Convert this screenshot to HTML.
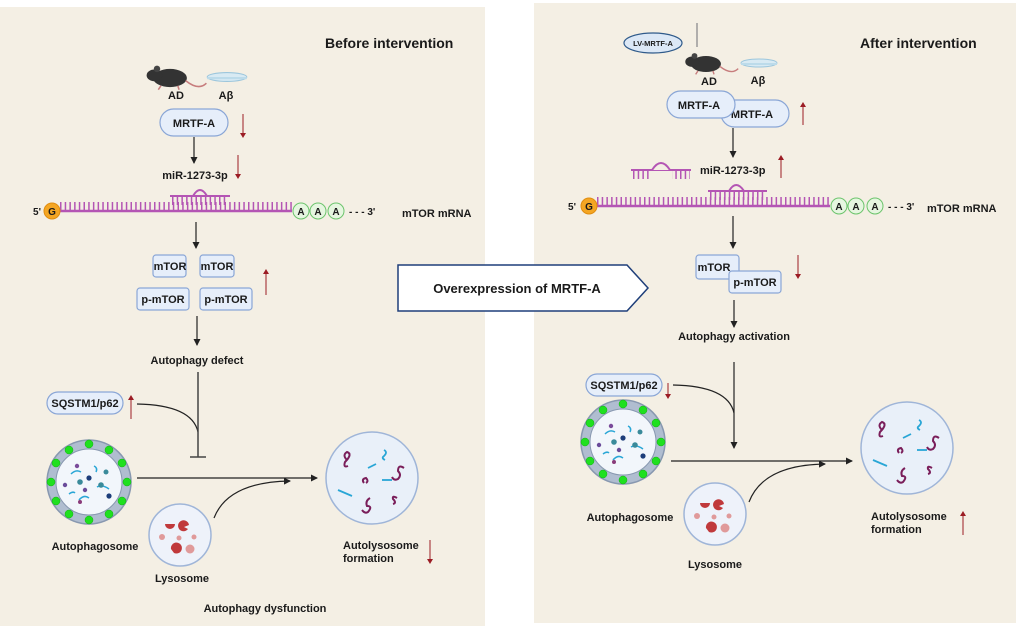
<!DOCTYPE html>
<html><head><meta charset="utf-8"><style>
html,body{margin:0;padding:0;background:#fff;}
svg{display:block;}
text{font-family:"Liberation Sans",Arial,sans-serif;font-weight:bold;fill:#1a1a1a;}
</style></head><body>
<svg width="1020" height="631" viewBox="0 0 1020 631" xmlns="http://www.w3.org/2000/svg">
<defs>
<marker id="ah" markerWidth="8" markerHeight="8" refX="6" refY="4" orient="auto" markerUnits="userSpaceOnUse"><path d="M0,0.5 L7,4 L0,7.5 Z" fill="#222"/></marker>
<marker id="rh" markerWidth="6" markerHeight="6" refX="4" refY="3" orient="auto" markerUnits="userSpaceOnUse"><path d="M0,0 L5,3 L0,6 Z" fill="#9b1c24"/></marker>
<g id="mouse">
<ellipse cx="0" cy="0" rx="13" ry="7" fill="#333"/>
<ellipse cx="-12" cy="-2" rx="6" ry="4.5" fill="#333"/>
<circle cx="-10" cy="-7" r="2.5" fill="#444"/>
<path d="M12,2 Q22,10 28,4" stroke="#c77d7d" stroke-width="1.2" fill="none"/>
<path d="M-7,6 l-2,3 M6,6 l1,3" stroke="#c77d7d" stroke-width="1.2"/>
</g>
<g id="dish"><ellipse cx="0" cy="0" rx="18" ry="4" fill="#d8eaf3" stroke="#9cc6dc"/><rect x="-18" y="0" width="36" height="2" fill="#bcdbea"/></g>
<g id="phago">
<circle r="42" fill="#b0bdd0" stroke="#8898b0" stroke-width="1.5"/>
<circle r="33" fill="#f2f6fb" stroke="#8898b0"/>
<g fill="#1fe01f" stroke="#13b013" stroke-width="0.5">
<circle cx="0" cy="-38" r="4"/><circle cx="20" cy="-32" r="4"/><circle cx="33" cy="-19" r="4"/><circle cx="38" cy="0" r="4"/><circle cx="33" cy="19" r="4"/><circle cx="20" cy="32" r="4"/><circle cx="0" cy="38" r="4"/><circle cx="-20" cy="32" r="4"/><circle cx="-33" cy="19" r="4"/><circle cx="-38" cy="0" r="4"/><circle cx="-33" cy="-19" r="4"/><circle cx="-20" cy="-32" r="4"/></g>
<g stroke="#29a6d6" stroke-width="1.5" fill="none"><path d="M-18,-8 q5,-5 10,-2"/><path d="M-10,18 q5,-6 10,-2"/><path d="M5,-16 q4,2 2,6"/><path d="M8,5 q5,-3 12,2"/><path d="M-20,12 q4,-3 6,-1"/></g>
<g><circle cx="-12" cy="-16" r="2.2" fill="#7a4b9a"/><circle cx="17" cy="-10" r="2.5" fill="#3a8a9a"/><circle cx="-9" cy="0" r="2.8" fill="#3a8a9a"/><circle cx="0" cy="-4" r="2.6" fill="#1d3d7a"/><circle cx="-24" cy="3" r="2.2" fill="#6a4b9a"/><circle cx="-4" cy="8" r="2.2" fill="#6a4b9a"/><circle cx="12" cy="3" r="2.8" fill="#3a8a9a"/><circle cx="20" cy="14" r="2.6" fill="#1d3d7a"/><circle cx="-9" cy="20" r="2" fill="#8a3b7a"/></g>
</g>
<g id="lyso">
<circle r="31" fill="#eef2fa" stroke="#9fb5d8" stroke-width="1.5"/>
<g fill="#c0393b"><path d="M-10,-11 m-5,0 a5,5 0 1,0 10,0 l-5,0 z"/><path d="M9,-10 a5.5,5.5 0 1,0 -1,4 l-4,-2 z"/><path d="M-9,14 a5.5,5.5 0 1,1 3,4 l-3,-4 z"/></g>
<g fill="#e09a9a"><circle cx="-18" cy="2" r="3"/><circle cx="-1" cy="3" r="2.5"/><circle cx="14" cy="2" r="2.5"/><circle cx="10" cy="14" r="4.5"/></g>
</g>
<g id="auto">
<circle r="46" fill="#e9f0f9" stroke="#9fb5d8" stroke-width="1.5"/>
<g stroke="#7a1e5a" stroke-width="2" fill="none"><path d="M-25,-18 q-5,-5 0,-8 q6,2 -2,10 q-2,6 3,4"/><path d="M32,-10 q-6,-4 -6,3 q4,4 0,8 q-4,2 -6,-2"/><path d="M-8,5 q-3,-4 2,-5 q3,3 0,5"/><path d="M25,20 q-5,-3 -4,1 q4,4 0,5"/><path d="M-2,20 q-5,3 -3,8 q6,0 1,6 q-3,2 -6,-2"/></g>
<g stroke="#29a6d6" stroke-width="1.8" fill="none"><path d="M12,-28 q4,2 0,6 q-3,2 1,4"/><path d="M-4,-10 l8,-4"/><path d="M10,2 l10,0"/><path d="M-34,12 l14,6"/></g>
</g>
</defs>

<rect x="0" y="7" width="485" height="619" fill="#f4efe4"/>
<rect x="534" y="3" width="482" height="620" fill="#f4efe4"/>

<!-- LEFT -->
<text x="325" y="48" font-size="14">Before intervention</text>
<use href="#mouse" transform="translate(170,78) scale(1.3)"/>
<use href="#dish" transform="translate(227,77) scale(1.1)"/>
<text x="176" y="99" font-size="11" text-anchor="middle">AD</text>
<text x="226" y="99" font-size="11" text-anchor="middle">Aβ</text>
<rect x="160" y="109" width="68" height="27" rx="13.5" fill="#e6eefa" stroke="#8aa6d6" stroke-width="1.2"/>
<text x="194" y="127" font-size="11" text-anchor="middle">MRTF-A</text>
<line x1="243" y1="114" x2="243" y2="137" stroke="#9b1c24" stroke-width="1" marker-end="url(#rh)"/>
<line x1="194" y1="137" x2="194" y2="163" stroke="#222" stroke-width="1.2" marker-end="url(#ah)"/>
<text x="195" y="179" font-size="11" text-anchor="middle">miR-1273-3p</text>
<line x1="238" y1="155" x2="238" y2="178" stroke="#9b1c24" stroke-width="1" marker-end="url(#rh)"/>
<line x1="60" y1="206" x2="292" y2="206" stroke="#b455b4" stroke-width="8" stroke-dasharray="1.5 3.2"/>
<line x1="60" y1="211" x2="292" y2="211" stroke="#b455b4" stroke-width="2.5"/>
<path d="M170,196 L230,196" stroke="#b455b4" stroke-width="2"/>
<line x1="172" y1="201" x2="228" y2="201" stroke="#b455b4" stroke-width="8" stroke-dasharray="1.5 3.2"/>
<path d="M193,196 q7,-12 14,0" stroke="#b455b4" stroke-width="2" fill="none"/>
<circle cx="52" cy="211" r="8" fill="#f4a623" stroke="#e08d10"/>
<text x="52" y="215" font-size="10" text-anchor="middle" font-weight="normal" fill="#8a5a00">G</text>
<text x="37" y="215" font-size="10" font-weight="normal" fill="#333" text-anchor="middle">5'</text>
<g fill="#e6f6e0" stroke="#6cc46c"><circle cx="301" cy="211" r="8"/><circle cx="318" cy="211" r="8"/><circle cx="336" cy="211" r="8"/></g>
<g font-size="10" font-weight="normal" text-anchor="middle"><text x="301" y="215" fill="#3a8a5a">A</text><text x="318" y="215" fill="#3a8a5a">A</text><text x="336" y="215" fill="#3a8a5a">A</text></g>
<text x="349" y="215" font-size="10" font-weight="normal" fill="#333">- - - 3'</text>
<text x="402" y="217" font-size="11">mTOR mRNA</text>
<line x1="196" y1="222" x2="196" y2="248" stroke="#222" stroke-width="1.2" marker-end="url(#ah)"/>
<g fill="#e6eefa" stroke="#8aa6d6" stroke-width="1.2">
<rect x="153" y="255" width="33" height="22" rx="3"/><rect x="200" y="255" width="34" height="22" rx="3"/>
<rect x="137" y="288" width="52" height="22" rx="3"/><rect x="200" y="288" width="52" height="22" rx="3"/></g>
<g font-size="11" text-anchor="middle"><text x="170" y="270">mTOR</text><text x="217" y="270">mTOR</text><text x="163" y="303">p-mTOR</text><text x="226" y="303">p-mTOR</text></g>
<line x1="266" y1="295" x2="266" y2="270" stroke="#9b1c24" stroke-width="1" marker-end="url(#rh)"/>
<line x1="197" y1="316" x2="197" y2="345" stroke="#222" stroke-width="1.2" marker-end="url(#ah)"/>
<text x="197" y="364" font-size="11" text-anchor="middle">Autophagy defect</text>
<rect x="47" y="392" width="76" height="22" rx="11" fill="#e6eefa" stroke="#8aa6d6" stroke-width="1.2"/>
<text x="85" y="407" font-size="11" text-anchor="middle">SQSTM1/p62</text>
<line x1="131" y1="419" x2="131" y2="396" stroke="#9b1c24" stroke-width="1" marker-end="url(#rh)"/>
<path d="M137,404 Q192,405 198,432" stroke="#222" stroke-width="1.2" fill="none"/>
<line x1="198" y1="372" x2="198" y2="457" stroke="#444" stroke-width="1.5"/>
<line x1="190" y1="457" x2="206" y2="457" stroke="#444" stroke-width="1.5"/>
<use href="#phago" transform="translate(89,482)"/>
<line x1="137" y1="478" x2="317" y2="478" stroke="#222" stroke-width="1.2" marker-end="url(#ah)"/>
<use href="#lyso" transform="translate(180,535)"/>
<path d="M214,518 Q228,482 290,481" stroke="#222" stroke-width="1.2" fill="none" marker-end="url(#ah)"/>
<use href="#auto" transform="translate(372,478)"/>
<text x="95" y="550" font-size="11" text-anchor="middle">Autophagosome</text>
<text x="182" y="582" font-size="11" text-anchor="middle">Lysosome</text>
<text x="343" y="549" font-size="11">Autolysosome</text>
<text x="343" y="562" font-size="11">formation</text>
<line x1="430" y1="540" x2="430" y2="563" stroke="#9b1c24" stroke-width="1" marker-end="url(#rh)"/>
<text x="265" y="612" font-size="11" text-anchor="middle">Autophagy dysfunction</text>

<path d="M398,265 L627,265 L648,288 L627,311 L398,311 Z" fill="#fff" stroke="#1f3f7a" stroke-width="1.5"/>
<text x="517" y="293" font-size="13" text-anchor="middle">Overexpression of MRTF-A</text>

<!-- RIGHT -->
<text x="860" y="48" font-size="14">After intervention</text>
<ellipse cx="653" cy="43" rx="29" ry="10" fill="#dce8f6" stroke="#2f5a8a" stroke-width="1.2"/>
<text x="653" y="46" font-size="7.5" text-anchor="middle">LV-MRTF-A</text>
<line x1="697" y1="23" x2="697" y2="47" stroke="#999" stroke-width="1.5"/>
<use href="#mouse" transform="translate(706,64) scale(1.15)"/>
<use href="#dish" transform="translate(759,63)"/>
<text x="709" y="85" font-size="11" text-anchor="middle">AD</text>
<text x="758" y="84" font-size="11" text-anchor="middle">Aβ</text>
<rect x="721" y="100" width="68" height="27" rx="13.5" fill="#e6eefa" stroke="#8aa6d6" stroke-width="1.2"/>
<text x="752" y="118" font-size="11" text-anchor="middle">MRTF-A</text>
<rect x="667" y="91" width="68" height="27" rx="13.5" fill="#e6eefa" stroke="#8aa6d6" stroke-width="1.2"/>
<text x="699" y="109" font-size="11" text-anchor="middle">MRTF-A</text>
<line x1="803" y1="125" x2="803" y2="103" stroke="#9b1c24" stroke-width="1" marker-end="url(#rh)"/>
<line x1="733" y1="128" x2="733" y2="157" stroke="#222" stroke-width="1.2" marker-end="url(#ah)"/>
<path d="M631,170 h60" stroke="#b455b4" stroke-width="2"/>
<line x1="633" y1="175" x2="690" y2="175" stroke="#b455b4" stroke-width="8" stroke-dasharray="1.5 3.2"/>
<path d="M652,170 q9,-14 18,0" stroke="#b455b4" stroke-width="2" fill="#f4efe4"/>
<rect x="650" y="171" width="22" height="9" fill="#f4efe4"/>
<text x="700" y="174" font-size="11">miR-1273-3p</text>
<line x1="781" y1="178" x2="781" y2="156" stroke="#9b1c24" stroke-width="1" marker-end="url(#rh)"/>
<line x1="597" y1="201" x2="830" y2="201" stroke="#b455b4" stroke-width="8" stroke-dasharray="1.5 3.2"/>
<line x1="597" y1="206" x2="830" y2="206" stroke="#b455b4" stroke-width="2.5"/>
<path d="M708,191 L767,191" stroke="#b455b4" stroke-width="2"/>
<line x1="710" y1="196" x2="765" y2="196" stroke="#b455b4" stroke-width="8" stroke-dasharray="1.5 3.2"/>
<path d="M729,191 q7,-12 15,0" stroke="#b455b4" stroke-width="2" fill="none"/>
<circle cx="589" cy="206" r="8" fill="#f4a623" stroke="#e08d10"/>
<text x="589" y="210" font-size="10" text-anchor="middle" font-weight="normal" fill="#8a5a00">G</text>
<text x="572" y="210" font-size="10" font-weight="normal" fill="#333" text-anchor="middle">5'</text>
<g fill="#e6f6e0" stroke="#6cc46c"><circle cx="839" cy="206" r="8"/><circle cx="856" cy="206" r="8"/><circle cx="875" cy="206" r="8"/></g>
<g font-size="10" font-weight="normal" text-anchor="middle"><text x="839" y="210" fill="#3a8a5a">A</text><text x="856" y="210" fill="#3a8a5a">A</text><text x="875" y="210" fill="#3a8a5a">A</text></g>
<text x="888" y="210" font-size="10" font-weight="normal" fill="#333">- - - 3'</text>
<text x="927" y="212" font-size="11">mTOR mRNA</text>
<line x1="733" y1="216" x2="733" y2="248" stroke="#222" stroke-width="1.2" marker-end="url(#ah)"/>
<rect x="696" y="255" width="43" height="24" rx="3" fill="#e6eefa" stroke="#8aa6d6" stroke-width="1.2"/>
<text x="714" y="271" font-size="11" text-anchor="middle">mTOR</text>
<rect x="729" y="271" width="52" height="22" rx="3" fill="#e6eefa" stroke="#8aa6d6" stroke-width="1.2"/>
<text x="755" y="286" font-size="11" text-anchor="middle">p-mTOR</text>
<line x1="798" y1="255" x2="798" y2="278" stroke="#9b1c24" stroke-width="1" marker-end="url(#rh)"/>
<line x1="734" y1="300" x2="734" y2="327" stroke="#222" stroke-width="1.2" marker-end="url(#ah)"/>
<text x="734" y="340" font-size="11" text-anchor="middle">Autophagy activation</text>
<line x1="734" y1="362" x2="734" y2="448" stroke="#222" stroke-width="1.2" marker-end="url(#ah)"/>
<rect x="586" y="374" width="76" height="22" rx="11" fill="#e6eefa" stroke="#8aa6d6" stroke-width="1.2"/>
<text x="624" y="389" font-size="11" text-anchor="middle">SQSTM1/p62</text>
<line x1="668" y1="383" x2="668" y2="398" stroke="#9b1c24" stroke-width="1" marker-end="url(#rh)"/>
<path d="M673,385 Q728,386 734,413" stroke="#222" stroke-width="1.2" fill="none"/>
<use href="#phago" transform="translate(623,442)"/>
<line x1="671" y1="461" x2="852" y2="461" stroke="#222" stroke-width="1.2" marker-end="url(#ah)"/>
<use href="#lyso" transform="translate(715,514)"/>
<path d="M749,502 Q763,465 825,464" stroke="#222" stroke-width="1.2" fill="none" marker-end="url(#ah)"/>
<use href="#auto" transform="translate(907,448)"/>
<text x="630" y="521" font-size="11" text-anchor="middle">Autophagosome</text>
<text x="715" y="568" font-size="11" text-anchor="middle">Lysosome</text>
<text x="871" y="520" font-size="11">Autolysosome</text>
<text x="871" y="533" font-size="11">formation</text>
<line x1="963" y1="535" x2="963" y2="512" stroke="#9b1c24" stroke-width="1" marker-end="url(#rh)"/>
</svg>
</body></html>
